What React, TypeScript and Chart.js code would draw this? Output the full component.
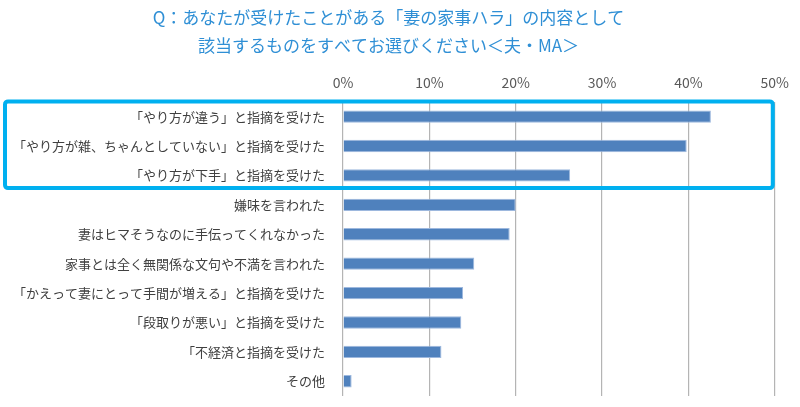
import React, { useEffect, useRef } from "react";
import { Chart, registerables } from "chart.js";

Chart.register(...registerables);

const titleLines = [
  "Q：あなたが受けたことがある「妻の家事ハラ」の内容として",
  "該当するものをすべてお選びください＜夫・MA＞",
];

const categories = [
  "「やり方が違う」と指摘を受けた",
  "「やり方が雑、ちゃんとしていない」と指摘を受けた",
  "「やり方が下手」と指摘を受けた",
  "嫌味を言われた",
  "妻はヒマそうなのに手伝ってくれなかった",
  "家事とは全く無関係な文句や不満を言われた",
  "「かえって妻にとって手間が増える」と指摘を受けた",
  "「段取りが悪い」と指摘を受けた",
  "「不経済と指摘を受けた",
  "その他",
];

const values = [42.6, 39.8, 26.3, 20.0, 19.3, 15.2, 13.9, 13.7, 11.4, 1.0];

const axisMin = 0;
const axisMax = 50;
const axisStep = 10;

const highlightCount = 3;

const FONT = "'Noto Sans CJK JP', 'Noto Sans', sans-serif";

const highlightPlugin = {
  id: "highlightBox",
  afterDraw(chart: any) {
    const { ctx, scales } = chart;
    const y = scales.y;
    const x = scales.x;
    const step = y.getPixelForValue(1) - y.getPixelForValue(0);
    const top = y.getPixelForValue(0) - step / 2 - 0.5;
    const bottom = y.getPixelForValue(highlightCount - 1) + step / 2 - 2;
    const left = 5;
    const right = x.getPixelForValue(axisMax) - 2;
    ctx.save();
    ctx.strokeStyle = "#00B0F0";
    ctx.lineWidth = 4;
    ctx.beginPath();
    if (ctx.roundRect) {
      ctx.roundRect(left, top, right - left, bottom - top, 3);
    } else {
      ctx.rect(left, top, right - left, bottom - top);
    }
    ctx.stroke();
    ctx.restore();
  },
};

export default function App() {
  const ref = useRef<HTMLCanvasElement | null>(null);

  useEffect(() => {
    document.body.style.margin = "0";
    const canvas = ref.current;
    if (!canvas) return;
    const chart = new Chart(canvas, {
      type: "bar",
      data: {
        labels: categories,
        datasets: [
          {
            data: values,
            backgroundColor: "#4F81BD",
            borderColor: "#9DB8DE",
            borderWidth: 1,
            barPercentage: 0.42,
            categoryPercentage: 1,
          },
        ],
      },
      options: {
        indexAxis: "y",
        animation: false,
        responsive: false,
        maintainAspectRatio: false,
        layout: { padding: { left: 0, right: 23, top: 0, bottom: 11 } },
        plugins: {
          legend: { display: false },
          tooltip: { enabled: false },
          title: {
            display: true,
            text: titleLines,
            color: "#2F8FD5",
            font: { family: FONT, size: 17, weight: "normal", lineHeight: 1.62 },
            padding: { top: 4, bottom: 4 },
          },
        },
        scales: {
          x: {
            position: "top",
            min: axisMin,
            max: axisMax,
            ticks: {
              stepSize: axisStep,
              callback: (v: any) => v + "%",
              color: "#595959",
              font: { family: FONT, size: 14 },
              padding: 11,
            },
            grid: { color: "#B4B4B4", lineWidth: 1.2, drawTicks: false },
            border: { display: false },
          },
          y: {
            ticks: {
              color: "#404040",
              font: { family: FONT, size: 13 },
              padding: 10,
              autoSkip: false,
            },
            grid: { display: false },
            border: { display: false },
            afterFit: (scale: any) => {
              scale.width = 343;
              scale.paddingTop = 0;
              scale.paddingBottom = 0;
            },
          },
        },
      },
      plugins: [highlightPlugin],
    });
    return () => chart.destroy();
  }, []);

  return (
    <div style={{ width: 800, height: 407, background: "#fff" }}>
      <canvas ref={ref} width={800} height={407} style={{ display: "block" }} />
    </div>
  );
}
